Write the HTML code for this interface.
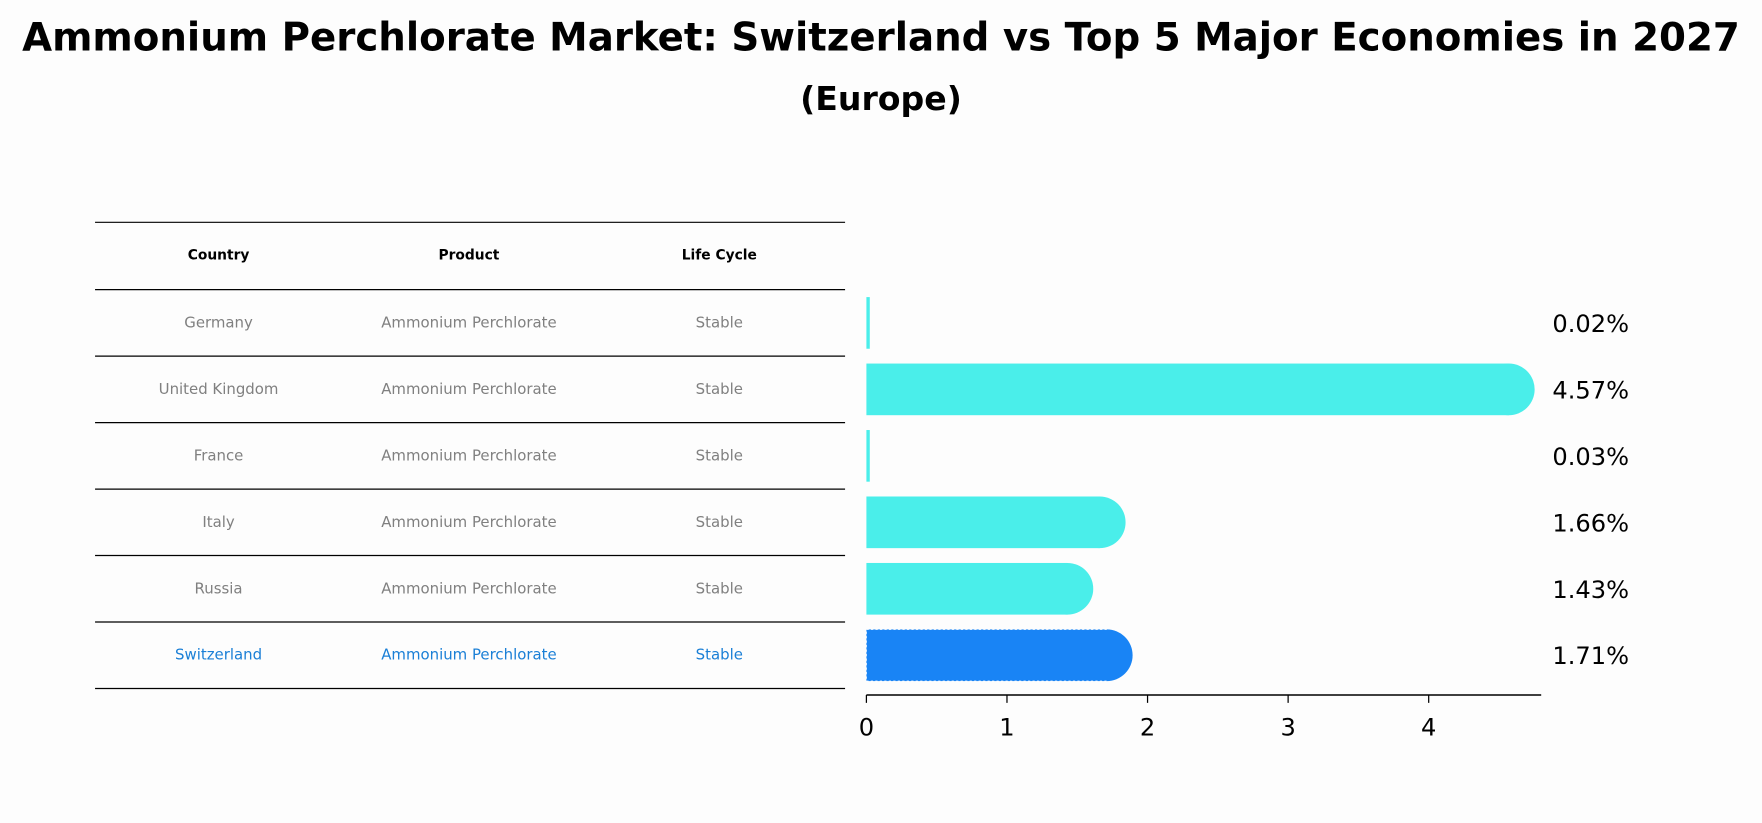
<!DOCTYPE html>
<html><head><meta charset="utf-8">
<style>
body{margin:0;background:#fdfdfd;font-family:"Liberation Sans","DejaVu Sans",sans-serif;}
#wrap{position:relative;width:1762px;height:823px;overflow:hidden;}
</style></head>
<body><div id="wrap">
<svg id="svg" width="1762" height="823" viewBox="0 0 1568 733" xmlns="http://www.w3.org/2000/svg">
<text x="784" y="45" text-anchor="middle" font-size="34.5" font-weight="bold" font-family="DejaVu Sans, Liberation Sans, sans-serif">Ammonium Perchlorate Market: Switzerland vs Top 5 Major Economies in 2027</text>
<text x="784" y="98" text-anchor="middle" font-size="29.5" font-weight="bold" font-family="DejaVu Sans, Liberation Sans, sans-serif">(Europe)</text>
<g id="table"></g>
<g id="bars"></g>
<g id="axis"></g>
</svg>
</div>
<script>
const countries=["Germany","United Kingdom","France","Italy","Russia","Switzerland"];
const products=["Ammonium Perchlorate","Ammonium Perchlorate","Ammonium Perchlorate","Ammonium Perchlorate","Ammonium Perchlorate","Ammonium Perchlorate"];
const lifecycle=["Stable","Stable","Stable","Stable","Stable","Stable"];
const values=[0.02,4.57,0.03,1.66,1.43,1.71];
const ticks=[0,1,2,3,4];
const NS="http://www.w3.org/2000/svg";
const x0=771,scale=125.2,rowTop=258,pitch=59.2,bh=46;
const xs=v=>x0+v*scale;
const yc=i=>rowTop+pitch*i+pitch/2;
function mk(t,a,p){const e=document.createElementNS(NS,t);for(const k in a)e.setAttribute(k,a[k]);p.appendChild(e);return e;}
const tb=document.getElementById('table');
const lineYs=[198];for(let i=0;i<=countries.length;i++)lineYs.push(rowTop+pitch*i);
lineYs.forEach((y,i)=>{const l=mk('line',{x1:84,x2:752,y1:y,y2:y,stroke:'#000','stroke-width':1.1},tb);

});
const colX=[194,417,640];
["Country","Product","Life Cycle"].forEach((h,j)=>{const t=mk('text',{x:colX[j],y:231,'text-anchor':'middle','font-size':12.3,'font-weight':'bold','font-family':'DejaVu Sans, sans-serif'},tb);t.textContent=h;

});
countries.forEach((c,i)=>{const hl=i===countries.length-1;const col=hl?'#1a7fd6':'#808080';
[c,products[i],lifecycle[i]].forEach((s,j)=>{const t=mk('text',{x:colX[j],y:yc(i)+4,'text-anchor':'middle','font-size':13.3,fill:col,'font-family':'DejaVu Sans, sans-serif'},tb);t.textContent=s;

});});
const bg=document.getElementById('bars');
values.forEach((v,i)=>{const hl=i===values.length-1;const col=hl?'#1984f5':'#4aeeea';const w=xs(v)-x0;const top=yc(i)-bh/2;
if(w<10){const r=mk('rect',{x:x0,y:top,width:3,height:bh,fill:col},bg);}
else{const g=mk('g',{},bg);
mk('rect',{x:x0,y:top,width:w,height:bh,fill:col},g);mk('circle',{cx:xs(v),cy:yc(i),r:bh/2,fill:col},g);
if(hl)mk('path',{d:`M${xs(v)},${top} H${x0} V${top+bh} H${xs(v)}`,fill:'none',stroke:'#ffffff','stroke-width':0.8,'stroke-dasharray':'2,2'},g);}
const t=mk('text',{x:1382,y:yc(i)+8,'font-size':21.5,'font-family':'DejaVu Sans, sans-serif'},bg);t.textContent=v.toFixed(2)+'%';

});
const ax=document.getElementById('axis');
mk('line',{x1:x0,x2:1372,y1:619,y2:619,stroke:'#000','stroke-width':1.4},ax);
ticks.forEach(v=>{mk('line',{x1:xs(v),x2:xs(v),y1:619,y2:626,stroke:'#000','stroke-width':1.1},ax);
const t=mk('text',{x:xs(v),y:655,'text-anchor':'middle','font-size':21.5,'font-family':'DejaVu Sans, sans-serif'},ax);t.textContent=v;

});
</script>
</body></html>
